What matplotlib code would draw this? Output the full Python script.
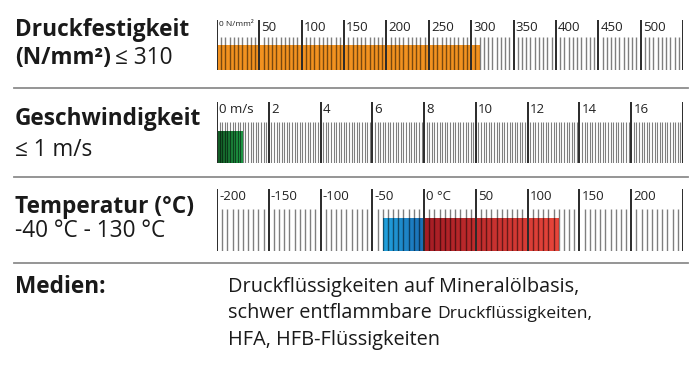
#Scale chart: Druckfestigkeit / Geschwindigkeit / Temperatur

#import modules
import numpy as np
import matplotlib.pyplot as plt
from matplotlib.colors import LinearSegmentedColormap
from matplotlib.lines import Line2D

plt.rcParams['font.family'] = ['Open Sans', 'DejaVu Sans']

#Data
druck_limits = (0, 550)
druck_majors = [0, 50, 100, 150, 200, 250, 300, 350, 400, 450, 500]
druck_labels = ['0 N/mm²', '50', '100', '150', '200', '250', '300', '350', '400', '450', '500']
druck_bars = [(0, 310, ['#f29220', '#f29220'])]

speed_limits = (0, 18)
speed_majors = [0, 2, 4, 6, 8, 10, 12, 14, 16]
speed_labels = ['0 m/s', '2', '4', '6', '8', '10', '12', '14', '16']
speed_bars = [(0, 1, ['#155a27', '#1e9a45'])]

temp_limits = (-200, 250)
temp_majors = [-200, -150, -100, -50, 0, 50, 100, 150, 200]
temp_labels = ['-200', '-150', '-100', '-50', '0 °C', '50', '100', '150', '200']
temp_bars = [(-40, 0, ['#20a3df', '#1b6cb3']),
             (0, 130, ['#a51c24', '#e8463b'])]

rows = [
    ('Druckfestigkeit', '(N/mm²)', '≤ 310'),
    ('Geschwindigkeit', '', '≤ 1 m/s'),
    ('Temperatur (°C)', '', '-40 °C - 130 °C'),
]
medien_title = 'Medien:'
medien_lines = ['Druckflüssigkeiten auf Mineralölbasis,',
                'schwer entflammbare ',
                'HFA, HFB-Flüssigkeiten']
medien_small = 'Druckflüssigkeiten,'

W, H = 700, 367


def px_box(x0, y0, x1, y1):
    #pixel box (top-left origin) -> figure fraction rect
    return [x0 / W, 1 - y1 / H, (x1 - x0) / W, (y1 - y0) / H]


def draw_scale(ax, limits, majors, labels, bars, minor_step, minor_h, bar_h, minor_lw=1.0, first_small=False):
    lo, hi = limits
    #coloured range bars with gradient
    for start, end, cols in bars:
        cmap = LinearSegmentedColormap.from_list('g', cols)
        ax.imshow(np.linspace(0, 1, 256).reshape(1, -1), extent=[start, end, 0, bar_h],
                  aspect='auto', cmap=cmap, zorder=1, interpolation='bilinear')
    #minor ticks
    n = int(round((hi - lo) / minor_step))
    minors = [lo + i * minor_step for i in range(n + 1)]
    minors = [m for m in minors if all(abs(m - M) > 1e-6 for M in majors + [hi])]
    ax.vlines(minors, 0, minor_h, color='black', alpha=0.5, lw=minor_lw, zorder=2)
    #major ticks + end line
    ax.vlines(majors + [hi], 0, 1, color='#2a2a2a', lw=1.4, zorder=3)
    for i, (m, lab) in enumerate(zip(majors, labels)):
        fs = 6 if (first_small and i == 0) else 9.5
        ax.annotate(lab, xy=(m, 1), xycoords=('data', 'axes fraction'),
                    xytext=(1.5, -1), textcoords='offset points',
                    ha='left', va='top', fontsize=fs, color='#222222')
    ax.set_xlim(lo, hi)
    ax.set_ylim(0, 1)
    ax.axis('off')


fig = plt.figure(figsize=(7, 3.67), dpi=100)
renderer = fig.canvas.get_renderer()


def text_after(t, s, gap_px, **kw):
    #put s right after text t, on the same baseline
    x1 = t.get_window_extent(renderer=renderer).x1
    x, y = t.get_position()
    return fig.text((x1 + gap_px) / W, y, s, va='baseline', **kw)


ax1 = fig.add_axes(px_box(217, 20, 683, 70))
draw_scale(ax1, druck_limits, druck_majors, druck_labels, druck_bars, 5, 0.66, 0.5, first_small=True)

ax2 = fig.add_axes(px_box(217, 102, 683, 163))
draw_scale(ax2, speed_limits, speed_majors, speed_labels, speed_bars, 0.1, 0.67, 0.51, minor_lw=0.8)

ax3 = fig.add_axes(px_box(217, 189, 683, 251))
draw_scale(ax3, temp_limits, temp_majors, temp_labels, temp_bars, 5, 0.68, 0.52)

#left labels
txt_col = '#1a1a1a'
big = 16.3
baselines = [(36, 64), (125, 156), (213, 237)]
for (title, bold2, reg2), (b1, b2) in zip(rows, baselines):
    fig.text(15 / W, 1 - b1 / H, title, fontsize=big, fontweight='bold', color=txt_col, va='baseline')
    if bold2:
        t = fig.text(15 / W, 1 - b2 / H, bold2, fontsize=big, fontweight='bold', color=txt_col, va='baseline')
        text_after(t, reg2, 4, fontsize=big, color=txt_col)
    else:
        fig.text(15 / W, 1 - b2 / H, reg2, fontsize=big, color=txt_col, va='baseline')

#separators
for y in [88, 177, 263]:
    fig.add_artist(Line2D([14 / W, 688 / W], [1 - y / H] * 2, color='#8c8c8c', lw=1.3))

#Medien block
fig.text(15 / W, 1 - 293 / H, medien_title, fontsize=big, fontweight='bold', color=txt_col, va='baseline')
for i, line in enumerate(medien_lines):
    t = fig.text(228 / W, 1 - (292 + 26.5 * i) / H, line, fontsize=14.3, color=txt_col, va='baseline')
    if i == 1:
        text_after(t, medien_small, 0, fontsize=12.6, color=txt_col)

fig.savefig('out.png', dpi=100)
